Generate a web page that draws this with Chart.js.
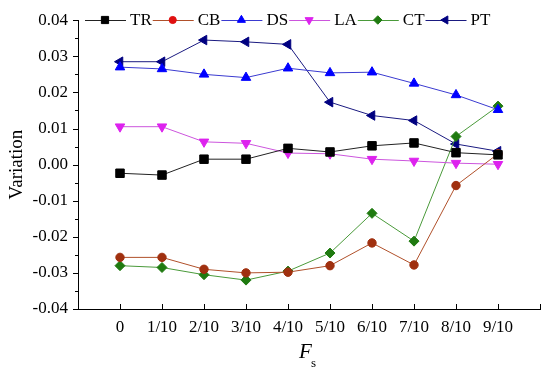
<!DOCTYPE html>
<html><head><meta charset="utf-8">
<script src="https://cdn.jsdelivr.net/npm/chart.js@4.4.0/dist/chart.umd.min.js"></script>
<style>html,body{margin:0;padding:0;background:#fff;}</style>
</head><body>
<canvas id="c" width="550" height="370" style="width:550px;height:370px;display:block"></canvas>
<script>
const categories = ['0','1/10','2/10','3/10','4/10','5/10','6/10','7/10','8/10','9/10'];
const yTickLabels = ['-0.04','-0.03','-0.02','-0.01','0.00','0.01','0.02','0.03','0.04'];
const seriesNames = ['TR','CB','DS','LA','CT','PT'];
const TR = [-0.0024,-0.0029,0.0015,0.0015,0.0045,0.0035,0.0052,0.0060,0.0033,0.0027];
const CB = [-0.0257,-0.0257,-0.0290,-0.0300,-0.0298,-0.0280,-0.0217,-0.0278,-0.0058,0.0030];
const DS = [0.0270,0.0265,0.0250,0.0241,0.0267,0.0254,0.0256,0.0225,0.0193,0.0152];
const LA = [0.0105,0.0105,0.0063,0.0059,0.0032,0.0030,0.0015,0.0010,0.0004,0.0001];
const CT = [-0.0280,-0.0285,-0.0305,-0.0320,-0.0295,-0.0245,-0.0135,-0.0212,0.0078,0.0162];
const PT = [0.0285,0.0285,0.0345,0.0340,0.0333,0.0173,0.0136,0.0122,0.0057,0.0037];

const seriesValues = [TR, CB, DS, LA, CT, PT];
const styles = [
  {line:'#222222', fill:'#000000', legend:'#000000', ps:'rect', rot:0, r:6},
  {line:'#b0502a', fill:'#a0300f', legend:'#e01010', ps:'circle', rot:0, r:4.2},
  {line:'#3a3ad0', fill:'#0000ff', legend:'#0000ff', ps:'triangle', rot:0, r:5.5},
  {line:'#cc55dd', fill:'#dd22ee', legend:'#dd22ee', ps:'triangle', rot:180, r:5.5},
  {line:'#4a9a3a', fill:'#1f7a10', legend:'#1f7a10', ps:'rectRot', rot:0, r:5},
  {line:'#1a1a80', fill:'#000080', legend:'#000080', ps:'triangle', rot:-90, r:5.5}
];

const datasets = seriesNames.map((name, k) => ({
  label: name,
  data: seriesValues[k].map((v, i) => ({x: i, y: v})),
  borderColor: styles[k].line,
  borderWidth: 1,
  backgroundColor: styles[k].fill,
  pointBackgroundColor: styles[k].fill,
  pointBorderColor: styles[k].fill,
  pointBorderWidth: 1,
  pointStyle: styles[k].ps,
  pointRotation: styles[k].rot,
  pointRadius: styles[k].r,
  tension: 0
}));

const SERIF = '"Liberation Serif", "Times New Roman", serif';

const decor = {
  id: 'decor',
  afterDraw(chart) {
    const ctx = chart.ctx;
    const xs = chart.scales.x, ys = chart.scales.y;
    const a = chart.chartArea;
    ctx.save();
    ctx.strokeStyle = '#000';
    ctx.lineWidth = 1;
    ctx.beginPath();
    // y major ticks outward, minor ticks
    for (let v = -0.04; v <= 0.0401; v += 0.005) {
      const py = Math.round(ys.getPixelForValue(v)) + 0.5;
      const major = Math.abs(Math.round(v * 1000) % 10) === 0;
      const len = major ? 5 : 3;
      ctx.moveTo(a.left - len, py);
      ctx.lineTo(a.left, py);
    }
    // x ticks inward
    for (let i = -1; i <= 10; i++) {
      const px = Math.round(xs.getPixelForValue(i)) + 0.5;
      ctx.moveTo(px, a.bottom);
      ctx.lineTo(px, a.bottom - 5);
    }
    ctx.stroke();

    // axis title F_s
    ctx.fillStyle = '#000';
    ctx.textBaseline = 'alphabetic';
    ctx.textAlign = 'left';
    ctx.font = 'italic 21px ' + SERIF;
    ctx.fillText('F', 299, 358);
    ctx.font = '13px ' + SERIF;
    ctx.fillText('s', 311, 367);

    // legend
    let x = 85;
    const y = 20;
    ctx.font = '17px ' + SERIF;
    ctx.textBaseline = 'middle';
    chart.data.datasets.forEach((ds, k) => {
      const st = styles[k];
      ctx.strokeStyle = st.line;
      ctx.lineWidth = 1;
      ctx.beginPath();
      ctx.moveTo(x, y + 0.5);
      ctx.lineTo(x + 41, y + 0.5);
      ctx.stroke();
      ctx.fillStyle = st.legend;
      ctx.strokeStyle = st.legend;
      Chart.helpers.drawPoint(ctx, {pointStyle: st.ps, rotation: st.rot, radius: st.r * 0.85, borderWidth: 1}, x + 20, y);
      ctx.fillStyle = '#000';
      ctx.fillText(ds.label, x + 45, y + 1);
      x += 45 + ctx.measureText(ds.label).width + 1;
    });
    ctx.restore();
  }
};

new Chart(document.getElementById('c'), {
  type: 'line',
  data: { datasets },
  options: {
    responsive: false,
    devicePixelRatio: 1,
    animation: false,
    layout: { padding: { top: 15, right: 10, left: 0, bottom: 0 } },
    plugins: { legend: { display: false }, tooltip: { enabled: false } },
    scales: {
      x: {
        type: 'linear',
        min: -1, max: 10,
        grid: { display: false, drawTicks: false },
        border: { display: true, color: '#000', width: 1 },
        ticks: {
          stepSize: 1, autoSkip: false, maxRotation: 0, padding: 8,
          color: '#000', font: { family: SERIF, size: 17 },
          callback: (v) => categories[v] !== undefined ? categories[v] : ''
        },
        afterFit: (s) => { s.height = 61; }
      },
      y: {
        min: -0.04, max: 0.04,
        grid: { display: false, drawTicks: false },
        border: { display: true, color: '#000', width: 1 },
        title: { display: true, text: 'Variation', color: '#000', font: { family: SERIF, size: 19 }, padding: { top: 6, bottom: 0 } },
        ticks: {
          stepSize: 0.01, padding: 10, color: '#000', font: { family: SERIF, size: 17 },
          callback: (v) => yTickLabels[Math.round((v + 0.04) / 0.01)]
        },
        afterFit: (s) => { s.width = 78; }
      }
    }
  },
  plugins: [decor]
});
</script>
</body></html>
